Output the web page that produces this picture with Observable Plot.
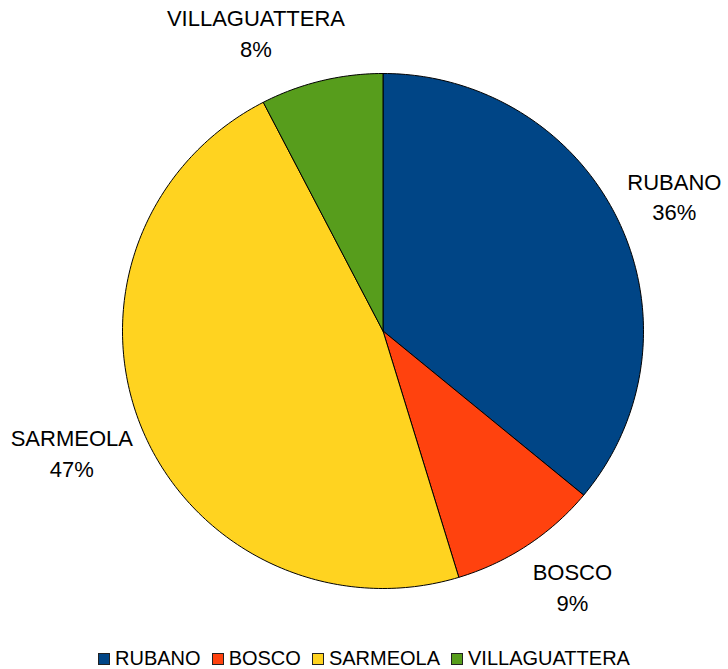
<!DOCTYPE html>
<html>
<head>
<meta charset="utf-8">
<script src="https://cdn.jsdelivr.net/npm/d3@7"></script>
<script src="https://cdn.jsdelivr.net/npm/@observablehq/plot@0.6"></script>
<style>
  html, body { margin: 0; padding: 0; background: #fff; }
  #wrap { position: relative; width: 728px; height: 669px; font-family: "Liberation Sans", Arial, sans-serif; }
  #legend { position: absolute; left: 0; top: 646px; width: 728px; display: flex; justify-content: center;
            font-size: 20px; line-height: 24px; color: #000; }
  .item { display: inline-flex; align-items: baseline; margin: 0 5.5px; white-space: nowrap; }
  .sw { display: inline-block; width: 10px; height: 10px; border: 1px solid #222; margin-right: 5px; }
</style>
</head>
<body>
<div id="wrap"><div id="chart"></div><div id="legend"></div></div>
<script>
// ---- data ----
const names = ["RUBANO", "BOSCO", "SARMEOLA", "VILLAGUATTERA"];
const values = [36.0, 9.3, 47.1, 7.6];
const colors = ["#004586", "#ff420e", "#ffd320", "#579d1c"];

// ---- layout ----
const W = 728, H = 640;
const cx = 382.5, cy = 330.5, rx = 260.5, ry = 257.5;
const fontSize = 22, lineH = 1.4;

const total = d3.sum(values);
const TAU = 2 * Math.PI;
let acc = 0;
const slices = names.map((name, i) => {
  const a0 = acc / total * TAU;
  acc += values[i];
  const a1 = acc / total * TAU;
  return {name, value: values[i], a0, a1, pct: Math.round(values[i] / total * 100)};
});

// polygon points per slice (unit circle, y up)
const points = [];
for (const s of slices) {
  const n = Math.max(2, Math.ceil((s.a1 - s.a0) / TAU * 360));
  points.push({name: s.name, x: 0, y: 0});
  for (let k = 0; k <= n; k++) {
    const a = s.a0 + (s.a1 - s.a0) * k / n;
    points.push({name: s.name, x: Math.sin(a), y: Math.cos(a)});
  }
  points.push({name: s.name, x: 0, y: 0});
}

// labels placed outside, box anchored toward the mid angle
const ctx = document.createElement("canvas").getContext("2d");
ctx.font = `${fontSize}px "Liberation Sans"`;
const clamp = (v, lo, hi) => Math.max(lo, Math.min(hi, v));
const labels = slices.map(s => {
  const a = (s.a0 + s.a1) / 2;
  const text = `${s.name}\n${s.pct}%`;
  const w = Math.max(ctx.measureText(s.name).width, ctx.measureText(s.pct + "%").width);
  const h = 2 * fontSize * lineH;
  const R = 270;
  const px = cx + R * Math.sin(a) + (w / 2) * clamp(3 * Math.sin(a), -1, 1);
  const py = cy - R * Math.cos(a) + (h / 2) * clamp(-1.6 * Math.cos(a), -1.2, 0.98);
  return {text, x: (px - cx) / rx, y: (cy - py) / ry};
});

const chart = Plot.plot({
  width: W, height: H, margin: 0,
  style: {fontFamily: "Liberation Sans", background: "#fff", overflow: "visible"},
  x: {domain: [-1, 1], range: [cx - rx, cx + rx], axis: null},
  y: {domain: [-1, 1], range: [cy + ry, cy - ry], axis: null},
  color: {domain: names, range: colors},
  marks: [
    Plot.line(points, {x: "x", y: "y", z: "name", fill: "name", stroke: "#000", strokeWidth: 1, strokeLinejoin: "round", clip: false}),
    Plot.text(labels, {x: "x", y: "y", text: "text", fontSize: fontSize, lineHeight: lineH,
      textAnchor: "middle", lineAnchor: "middle", fill: "#000", fontFamily: "Liberation Sans"})
  ]
});
document.getElementById("chart").appendChild(chart);

// legend
const leg = document.getElementById("legend");
names.forEach((n, i) => {
  const it = document.createElement("span");
  it.className = "item";
  const sw = document.createElement("span");
  sw.className = "sw";
  sw.style.background = colors[i];
  it.appendChild(sw);
  it.appendChild(document.createTextNode(n));
  leg.appendChild(it);
});
</script>
</body>
</html>
